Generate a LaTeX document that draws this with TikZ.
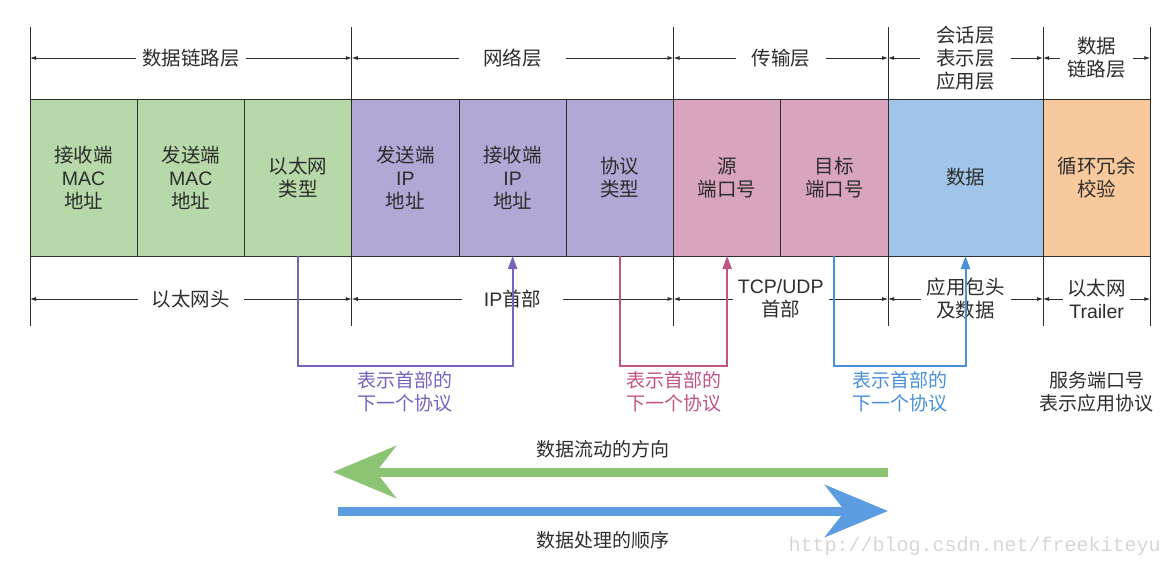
\documentclass[tikz,border=0pt]{standalone}
\usepackage{fontspec}
\setmainfont{Noto Sans CJK SC}
\newfontfamily\latin{Liberation Sans}
\newfontfamily\wmfont{Liberation Mono}
\usetikzlibrary{arrows.meta,positioning}

\definecolor{boxgreen}{RGB}{183,216,168}
\definecolor{boxpurple}{RGB}{178,167,213}
\definecolor{boxpink}{RGB}{216,164,190}
\definecolor{boxblue}{RGB}{160,197,232}
\definecolor{boxorange}{RGB}{248,201,156}
\definecolor{linepurple}{RGB}{120,98,190}
\definecolor{linepink}{RGB}{192,84,132}
\definecolor{lineblue}{RGB}{74,144,217}
\definecolor{flowgreen}{RGB}{140,196,116}
\definecolor{flowblue}{RGB}{92,156,224}
\definecolor{inkgray}{RGB}{45,45,45}

\begin{document}
\begin{tikzpicture}[x=1pt,y=-1pt,line width=1pt,
  field/.style={draw=inkgray,minimum width=107.25pt,minimum height=157pt,inner sep=0pt,outer sep=0pt,
    align=center,text=inkgray,font=\fontsize{19.5}{23}\selectfont},
  lbl/.style={fill=white,align=center,inner xsep=12pt,inner ysep=0pt,text=inkgray,font=\fontsize{19.5}{23}\selectfont},
  dim/.style={inkgray,line width=0.8pt,{Latex[length=6pt,width=4pt]}-{Latex[length=6pt,width=4pt]}},
  tick/.style={inkgray,line width=1pt},
  nextproto/.style={line width=2pt,-{Triangle[length=13pt,width=9pt]}},
  note/.style={align=center,inner sep=1pt,font=\fontsize{19}{23}\selectfont},
  flow/.style={line width=9pt,-{Stealth[length=63pt,width=52pt,inset=20pt]}}]
\path[use as bounding box] (0,0) rectangle (1168,566);

% frame fields
\node[field,fill=boxgreen] (dmac) at (83.625,177.5) {接收端\\{\latin MAC}\\地址};
\node[field,fill=boxgreen,right=0pt of dmac] (smac) {发送端\\{\latin MAC}\\地址};
\node[field,fill=boxgreen,right=0pt of smac] (etype) {以太网\\类型};
\node[field,fill=boxpurple,right=0pt of etype] (sip) {发送端\\{\latin IP}\\地址};
\node[field,fill=boxpurple,right=0pt of sip] (dip) {接收端\\{\latin IP}\\地址};
\node[field,fill=boxpurple,right=0pt of dip] (proto) {协议\\类型};
\node[field,fill=boxpink,right=0pt of proto] (sport) {源\\端口号};
\node[field,fill=boxpink,right=0pt of sport] (dport) {目标\\端口号};
\node[field,fill=boxblue,minimum width=155pt,right=0pt of dport] (data) {数据};
\node[field,fill=boxorange,right=0pt of data] (crc) {循环冗余\\校验};

% ticks and dimension points
\foreach \p/\f/\a in {a/dmac/west,b/sip/west,c/sport/west,d/data/west,e/crc/west,f/crc/east} {
  \draw[tick] (\f.north \a) -- ++(0,-72);
  \draw[tick] (\f.south \a) -- ++(0,70);
  \coordinate (top\p) at ([yshift=41pt]\f.north \a);
  \coordinate (bot\p) at ([yshift=-43pt]\f.south \a);
}

% layers
\draw[dim] (topa) -- (topb) node[lbl,midway,inner xsep=6pt] (ltop1) {数据链路层};
\draw[dim] (topb) -- (topc) node[lbl,midway,inner xsep=24pt] (ltop2) {网络层};
\draw[dim] (topc) -- (topd) node[lbl,midway,inner xsep=16pt] (ltop3) {传输层};
\draw[dim] (topd) -- (tope) node[lbl,midway,inner xsep=16pt] (ltop4) {会话层\\表示层\\应用层};
\draw[dim] (tope) -- (topf) node[lbl,midway,inner xsep=7pt] (ltop5) {数据\\链路层};

% headers
\draw[dim] (bota) -- (botb) node[lbl,midway,inner xsep=14pt] (lbot1) {以太网头};
\draw[dim] (botb) -- (botc) node[lbl,midway,inner xsep=22pt] (lbot2) {{\latin IP}首部};
\draw[dim] (botc) -- (botd) node[lbl,midway,inner xsep=5pt] (lbot3) {{\latin TCP/UDP}\\首部};
\draw[dim] (botd) -- (bote) node[lbl,midway,inner xsep=6pt] (lbot4) {应用包头\\及数据};
\draw[dim] (bote) -- (botf) node[lbl,midway,inner xsep=4pt] (lbot5) {以太网\\{\latin Trailer}};

% next protocol pointers
\draw[nextproto,linepurple] (etype.south) -- ++(0,110) -| (dip.south)
  node[note,pos=0.25,below=3pt] (pnote) {表示首部的\\下一个协议};
\draw[nextproto,linepink] (proto.south) -- ++(0,110) -| (sport.south)
  node[note,pos=0.25,below=3pt] (knote) {表示首部的\\下一个协议};
\draw[nextproto,lineblue] (dport.south) -- ++(0,110) -| (data.south)
  node[note,pos=0.25,below=3pt] (bnote) {表示首部的\\下一个协议};
\node[note,text=inkgray] (svc) at (crc |- pnote) {服务端口号\\表示应用协议};

% flow direction
\coordinate (gR) at (888,472);
\coordinate (gL) at (333,472);
\coordinate (bL) at (338,511);
\coordinate (bR) at (888,511);
\draw[flow,flowgreen] (gR) -- (gL);
\draw[flow,flowblue] (bL) -- (bR);
\node[note,text=inkgray] (flowtxt) at (603,449) {数据流动的方向};
\node[note,text=inkgray] (proctxt) at (603,540) {数据处理的顺序};

\node[anchor=west,inner sep=0pt,text=black!16,font=\wmfont\fontsize{20}{20}\selectfont] (wm) at (788,546) {http://blog.csdn.net/freekiteyu};
\end{tikzpicture}
\end{document}
